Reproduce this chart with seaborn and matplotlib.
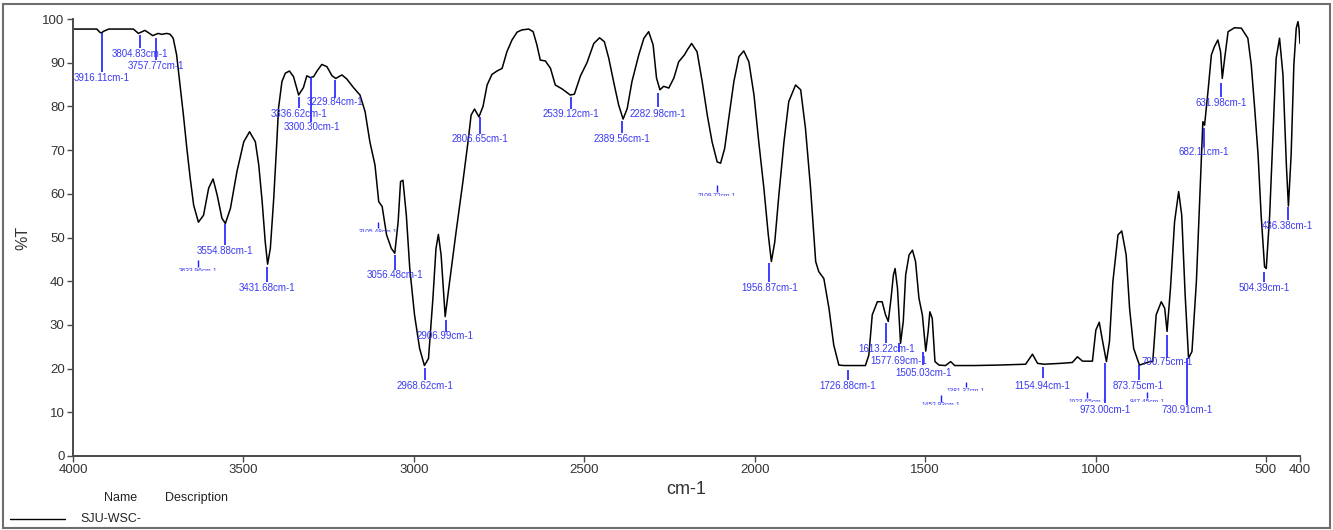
"""
FT-IR spectrum of SJU-WSC- (%T vs wavenumber) with picked peaks.
"""

import numpy as np
import pandas as pd
import matplotlib
matplotlib.use("Agg")
import matplotlib.pyplot as plt
from matplotlib.patches import Rectangle
from matplotlib.lines import Line2D
from matplotlib.transforms import Bbox
import seaborn as sns

# spectrum (wavenumber cm-1, %T)
wavenumber = [
    4000, 3930, 3922, 3917, 3910, 3895, 3823, 3808, 3789, 3766, 3750, 3740,
    3725, 3715, 3706, 3696, 3686, 3676, 3666, 3656, 3646, 3632, 3617, 3602,
    3589, 3577, 3563, 3553, 3538, 3519, 3499, 3482, 3465, 3455, 3445, 3436,
    3429, 3421, 3411, 3402, 3397, 3387, 3377, 3365, 3353, 3338, 3324, 3314,
    3304, 3294, 3284, 3270, 3255, 3240, 3229, 3211, 3197, 3177, 3158, 3143,
    3129, 3114, 3103, 3093, 3080, 3066, 3056, 3046, 3039, 3032, 3022, 3012,
    2998, 2983, 2969, 2957, 2944, 2935, 2928, 2920, 2908, 2895, 2876, 2856,
    2841, 2832, 2822, 2809, 2797, 2785, 2771, 2756, 2741, 2727, 2712, 2697,
    2683, 2663, 2650, 2639, 2629, 2614, 2599, 2585, 2565, 2541, 2529, 2511,
    2492, 2472, 2455, 2441, 2428, 2414, 2399, 2386, 2374, 2360, 2340, 2325,
    2311, 2298, 2288, 2278, 2267, 2252, 2237, 2223, 2206, 2197, 2185, 2169,
    2154, 2139, 2125, 2110, 2100, 2088, 2076, 2061, 2046, 2032, 2017, 2002,
    1988, 1973, 1960, 1951, 1941, 1929, 1914, 1900, 1880, 1865, 1851, 1836,
    1821, 1812, 1797, 1782, 1768, 1753, 1738, 1675, 1665, 1655, 1640, 1626,
    1616, 1608, 1600, 1593, 1588, 1581, 1572, 1564, 1557, 1547, 1537, 1528,
    1518, 1508, 1498, 1491, 1486, 1479, 1471, 1459, 1440, 1425, 1413, 1356,
    1288, 1205, 1185, 1170, 1151, 1102, 1068, 1053, 1038, 1009, 999, 989,
    979, 968, 959, 949, 934, 923, 910, 900, 888, 871, 856, 841,
    832, 822, 807, 797, 790, 780, 768, 756, 747, 737, 727, 717,
    704, 692, 685, 680, 670, 660, 651, 641, 633, 628, 621, 611,
    592, 572, 553, 543, 533, 523, 514, 504, 499, 489, 479, 470,
    460, 450, 440, 434, 426, 418, 411, 406, 403, 400,
]
transmittance = [
    97.7, 97.7, 97.0, 96.8, 97.2, 97.7, 97.7, 96.7, 97.4, 96.2, 96.7, 96.5,
    96.7, 96.5, 95.6, 91.8, 84.9, 78.0, 70.4, 63.5, 57.4, 53.5, 55.1, 61.3,
    63.4, 59.7, 54.4, 53.2, 56.7, 65.1, 71.9, 74.2, 71.9, 66.6, 58.2, 49.0,
    43.9, 47.5, 59.0, 71.9, 79.6, 85.7, 87.6, 88.1, 86.8, 82.6, 84.3, 87.0,
    86.6, 86.8, 88.1, 89.6, 89.1, 87.0, 86.4, 87.2, 86.3, 84.3, 82.6, 78.8,
    71.9, 66.6, 58.2, 57.1, 50.6, 47.5, 46.4, 53.6, 62.8, 63.1, 55.1, 43.0,
    32.3, 24.6, 20.7, 22.3, 36.1, 47.5, 50.7, 46.0, 31.9, 39.9, 51.3, 62.8,
    71.9, 78.0, 79.4, 77.6, 80.0, 84.9, 87.3, 88.1, 88.7, 92.5, 95.2, 97.0,
    97.5, 97.7, 97.1, 94.1, 90.6, 90.4, 88.7, 84.9, 84.0, 82.6, 82.8, 87.0,
    90.0, 94.4, 95.7, 94.8, 91.0, 85.7, 80.3, 77.1, 79.5, 85.7, 91.8, 95.6,
    97.1, 94.1, 86.5, 83.8, 84.6, 84.2, 86.5, 90.2, 91.8, 93.0, 94.4, 92.5,
    85.7, 78.0, 71.9, 67.3, 67.0, 70.4, 77.3, 85.7, 91.4, 92.7, 90.2, 82.6,
    71.9, 61.3, 50.6, 44.5, 49.0, 59.7, 71.9, 81.1, 84.9, 83.8, 75.0, 61.3,
    44.5, 42.2, 40.6, 33.8, 25.4, 20.8, 20.7, 20.7, 23.1, 32.3, 35.3, 35.3,
    32.3, 30.8, 36.0, 41.4, 42.9, 38.4, 25.8, 30.8, 41.4, 46.0, 47.1, 44.5,
    36.1, 32.3, 24.0, 28.5, 33.0, 31.5, 21.6, 20.8, 20.7, 21.6, 20.7, 20.7,
    20.8, 21.0, 23.3, 21.2, 21.0, 21.2, 21.4, 22.7, 21.7, 21.7, 28.8, 30.6,
    26.2, 21.6, 26.2, 39.9, 50.6, 51.5, 46.0, 33.8, 24.6, 20.8, 21.2, 21.6,
    21.6, 32.3, 35.3, 33.8, 28.5, 38.4, 53.6, 60.5, 55.1, 36.9, 22.4, 23.9,
    39.9, 62.8, 76.5, 75.7, 83.4, 91.8, 93.7, 95.2, 92.5, 86.4, 91.0, 97.1,
    98.0, 97.9, 95.6, 89.5, 79.6, 68.9, 55.1, 43.3, 42.9, 55.1, 74.2, 91.0,
    95.6, 87.2, 66.6, 57.2, 68.9, 89.5, 97.9, 99.4, 97.9, 94.4,
]

# picked peaks (printed labels)
peak_wn = ["3916.11", "3804.83", "3757.77", "3554.88", "3431.68", "3336.62",
           "3300.30", "3229.84", "3056.48", "2968.62", "2906.99", "2806.65",
           "2539.12", "2389.56", "2282.98", "1956.87", "1726.88", "1613.22",
           "1577.69", "1505.03", "1154.94", "973.00", "873.75", "790.75",
           "730.91", "682.11", "631.98", "504.39", "436.38"]
# peak labels printed so small they are barely visible
faint_wn = ["3633.96", "3105.48", "2109.72", "1381.37", "1452.93", "1023.65",
            "847.45"]

# label layout: (tick top, tick bottom, text centre) in %T
peak_layout = [
    (96.8, 87.9, 86.6), (96.3, 93.4, 92.0), (95.7, 90.6, 89.2),
    (53.1, 48.3, 46.9), (43.2, 39.8, 38.4), (82.2, 79.6, 78.3),
    (86.7, 76.4, 75.2), (86.0, 81.9, 80.9), (46.0, 42.6, 41.4),
    (20.1, 17.4, 16.1), (31.1, 28.4, 27.4), (77.6, 73.7, 72.5),
    (82.2, 79.4, 78.3), (76.7, 73.9, 72.5), (83.1, 79.9, 78.3),
    (44.2, 39.8, 38.4), (19.7, 17.4, 16.1), (30.4, 25.9, 24.5),
    (25.9, 23.8, 21.8), (23.8, 20.8, 19.0), (20.4, 17.8, 16.1),
    (21.3, 12.1, 10.5), (20.8, 17.4, 16.1), (27.7, 22.4, 21.5),
    (22.4, 11.7, 10.5), (75.1, 70.7, 69.6), (85.4, 82.2, 80.8),
    (42.1, 39.8, 38.4), (57.0, 54.0, 52.6),
]
faint_layout = [
    (44.9, 43.2), (53.5, 52.2), (62.0, 60.4), (16.9, 15.8),
    (14.0, 12.4), (14.6, 13.3), (14.6, 13.3),
]

xticks = [4000, 3500, 3000, 2500, 2000, 1500, 1000, 500, 400]
yticks = list(range(0, 101, 10))

BLUE_TXT = "#3a3af2"
BLUE_LINE = "#1c1cff"
AXIS_C = "#4a4a4a"

sns.set_style("white")
plt.rcParams["font.family"] = ["Liberation Sans", "DejaVu Sans"]

df = pd.DataFrame({"wavenumber": wavenumber, "T": transmittance})

W, H = 1333, 530
fig = plt.figure(figsize=(W / 100, H / 100), dpi=100)
ax = fig.add_axes([73 / W, 1 - 456 / H, (1300 - 73) / W, (456 - 19) / H])

sns.lineplot(data=df, x="wavenumber", y="T", ax=ax, color="black", lw=1.1,
             estimator=None, sort=False, legend=False)

ax.set_xlim(4000, 400)
ax.set_ylim(0, 100)
ax.set_xticks(xticks)
ax.set_xticklabels([str(t) for t in xticks])
ax.set_yticks(yticks)
sns.despine(ax=ax)
for side in ["left", "bottom"]:
    ax.spines[side].set_color(AXIS_C)
    ax.spines[side].set_linewidth(1.4)
ax.tick_params(bottom=True, left=True, direction="out", length=4, width=1,
               colors=AXIS_C, labelcolor="#333333", labelsize=9.5, pad=2)
ax.set_xlabel("cm-1", fontsize=13, color="#333333", labelpad=3)
ax.set_ylabel("%T", fontsize=11.5, color="#333333", labelpad=9)

# peak picks: blue tick + label
for lab, (top, bot, ty) in zip(peak_wn, peak_layout):
    x = float(lab)
    ax.vlines(x, bot, top, color=BLUE_LINE, lw=1.2)
    ax.text(x, ty, f"{lab}cm-1", ha="center", va="center", fontsize=7,
            color=BLUE_TXT)

# faint picks: only the top sliver of the text shows (clip in pixels)
for lab, (top, bot) in zip(faint_wn, faint_layout):
    x = float(lab)
    ax.vlines(x, bot, top, color=BLUE_LINE, lw=1.0)
    t = ax.text(x, bot - 0.15, f"{lab}cm-1", ha="center", va="top",
                fontsize=4.8, color=BLUE_TXT)
    px, py = ax.transData.transform((x, bot - 0.15))
    t.set_clip_box(Bbox.from_extents(px - 40, py - 3, px + 40, py + 1))
    t.set_clip_on(True)

# legend block under the axes
fig.text(121 / W, 1 - 498 / H, "Name", fontsize=9, ha="center", va="center",
         color="#222222")
fig.text(196 / W, 1 - 498 / H, "Description", fontsize=9, ha="center",
         va="center", color="#222222")
fig.add_artist(Line2D([10 / W, 65 / W], [1 - 519 / H, 1 - 519 / H],
                      transform=fig.transFigure, color="black", lw=1))
fig.text(80 / W, 1 - 519 / H, "SJU-WSC-", fontsize=9, ha="left", va="center",
         color="#222222")

# outer frame
fig.add_artist(Rectangle((3 / W, 2 / H), 1327 / W, 524 / H,
                         transform=fig.transFigure, fill=False,
                         edgecolor="#6e6e6e", lw=1.5))

fig.savefig("out.png", dpi=100)
plt.close(fig)
